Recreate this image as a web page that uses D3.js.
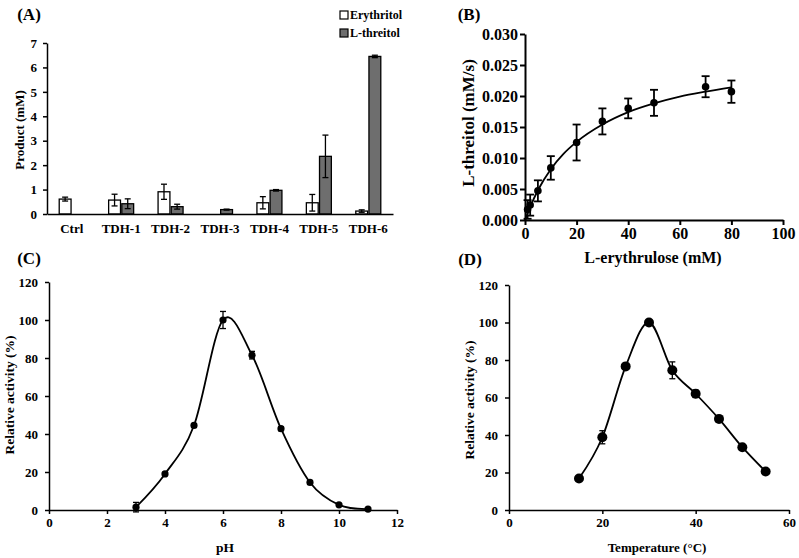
<!DOCTYPE html>
<html><head><meta charset="utf-8">
<script src="https://cdn.jsdelivr.net/npm/d3@7"></script>
<style>
body{margin:0;background:#fff;}
svg{display:block;font-family:"Liberation Serif","Times New Roman",serif;font-weight:bold;}
</style></head>
<body><svg id="c" width="799" height="558"></svg>
<script>
// ---------- Data ----------
// (A)
const catsA = ["Ctrl","TDH-1","TDH-2","TDH-3","TDH-4","TDH-5","TDH-6"];
const seriesA = ["Erythritol","L-threitol"];
const erythritol    = [0.61,0.57,0.91,0,0.46,0.46,0.12];
const erythritolErr = [0.08,0.24,0.31,0,0.25,0.34,0.05];
const threitol      = [0,0.42,0.30,0.18,0.97,2.36,6.45];
const threitolErr   = [0,0.20,0.10,0.02,0.03,0.87,0.05];
const ticksA = [0,1,2,3,4,5,6,7];
// (B)
const substrate = [1,2,5,10,20,30,40,50,70,80];
const rateB     = [0.0017,0.0024,0.0047,0.0084,0.0125,0.0159,0.0180,0.0189,0.0215,0.0207];
const rateErrB  = [0.0015,0.0017,0.0017,0.0019,0.0029,0.0021,0.0016,0.0021,0.0017,0.0018];
const fitX = [0,2,5,10,15,20,30,40,50,60,70,80];
const fitY = [0,0.0021,0.0048,0.0082,0.0107,0.0126,0.0154,0.0174,0.0188,0.0199,0.0207,0.0214];
const ticksBy = [0,0.005,0.010,0.015,0.020,0.025,0.030];
const ticksBx = [0,20,40,60,80,100];
// (C)
const pH    = [3,4,5,6,7,8,9,10,11];
const actPH = [1.5,19,44.5,100,81.5,42.8,14.5,2.7,0.5];
const errPH = [2.5,0.8,1,4.5,2,1,1,0.5,0.3];
const ticksCx = [0,2,4,6,8,10,12];
// (D)
const temp = [15,20,25,30,35,40,45,50,55];
const actT = [16.8,38.8,76.6,100,74.5,62,48.6,33.5,20.5];
const errT = [0.5,3.5,1,1.5,4.5,2,1,1,1];
const ticksDx = [0,20,40,60];
const ticksRel = [0,20,40,60,80,100,120];

const svg = d3.select("#c");

function styleAxis(g, w, fs){
  g.selectAll("path,line").attr("stroke","#000").attr("stroke-width",w);
  g.selectAll("text").attr("font-size",fs).attr("font-weight","bold")
   .attr("font-family","'Liberation Serif','Times New Roman',serif").attr("fill","#000");
}
function label(x,y,t,fs,rot){
  const e = svg.append("text").attr("text-anchor","middle").attr("dominant-baseline","central")
    .attr("font-size",fs).text(t);
  if(rot) e.attr("transform",`translate(${x},${y}) rotate(-90)`); else e.attr("x",x).attr("y",y);
  return e;
}
function errBars(g, data, xf, yf, cap, w){
  const eg = g.append("g").attr("stroke","#000").attr("stroke-width",w);
  data.forEach(d=>{
    if(!d.e) return;
    const x = xf(d), y1 = yf(d.v+d.e), y2 = yf(d.v-d.e);
    eg.append("line").attr("x1",x).attr("x2",x).attr("y1",y1).attr("y2",y2);
    eg.append("line").attr("x1",x-cap).attr("x2",x+cap).attr("y1",y1).attr("y2",y1);
    eg.append("line").attr("x1",x-cap).attr("x2",x+cap).attr("y1",y2).attr("y2",y2);
  });
}

// ---------- Panel A ----------
{
  const x = d3.scaleBand().domain(catsA).range([47,393]);
  const y = d3.scaleLinear().domain([0,7]).range([214,43]);
  const sub = d3.scaleBand().domain(seriesA).range([x.bandwidth()/2-12.5, x.bandwidth()/2+12.5]).paddingInner(0.1);
  const g = svg.append("g");
  const rows = [];
  catsA.forEach((c,i)=>{
    rows.push({c, s:"Erythritol", v:erythritol[i], e:erythritolErr[i]});
    rows.push({c, s:"L-threitol", v:threitol[i], e:threitolErr[i]});
  });
  const bars = rows.filter(d=>d.v>0);
  g.selectAll("rect.bar").data(bars).join("rect")
    .attr("x",d=>x(d.c)+sub(d.s)).attr("width",sub.bandwidth())
    .attr("y",d=>y(d.v)).attr("height",d=>y(0)-y(d.v))
    .attr("fill",d=>d.s==="Erythritol"?"#fff":"#6e6e6e")
    .attr("stroke","#000").attr("stroke-width",1.3);
  errBars(g, bars, d=>x(d.c)+sub(d.s)+sub.bandwidth()/2, y, 3, 1.3);
  const ay = g.append("g").attr("transform","translate(47,0)")
    .call(d3.axisLeft(y).tickValues(ticksA).tickFormat(d3.format("d")).tickSize(4).tickSizeOuter(0).tickPadding(6));
  styleAxis(ay,1.5,13);
  const ax = g.append("g").attr("transform","translate(0,214)")
    .call(d3.axisBottom(x).tickSize(0).tickSizeOuter(0).tickPadding(10));
  styleAxis(ax,1.5,13);
  label(19,130,"Product (mM)",13,true);
  label(29,14,"(A)",17,false);
  // legend
  const lg = svg.append("g");
  seriesA.forEach((s,i)=>{
    const yy = 15 + i*18;
    lg.append("rect").attr("x",340).attr("y",yy-4).attr("width",8).attr("height",8)
      .attr("fill",i===0?"#fff":"#6e6e6e").attr("stroke","#000").attr("stroke-width",1.2);
    lg.append("text").attr("x",350).attr("y",yy).attr("dominant-baseline","central")
      .attr("font-size",12).text(s);
  });
}

// ---------- Panel B ----------
{
  const x = d3.scaleLinear().domain([0,100]).range([525,783]);
  const y = d3.scaleLinear().domain([0,0.030]).range([220,34]);
  const g = svg.append("g");
  const ay = g.append("g").attr("transform","translate(525,0)")
    .call(d3.axisLeft(y).tickValues(ticksBy).tickFormat(d3.format(".3f")).tickSize(5).tickSizeOuter(0).tickPadding(2));
  styleAxis(ay,2,16);
  const ax = g.append("g").attr("transform","translate(0,220)")
    .call(d3.axisBottom(x).tickValues(ticksBx).tickSize(5).tickSizeOuter(0).tickPadding(3));
  styleAxis(ax,2,16);
  const pts = substrate.map((s,i)=>({x:s,v:rateB[i],e:rateErrB[i]}));
  const fit = fitX.map((s,i)=>[s,fitY[i]]);
  g.append("path").datum(fit).attr("fill","none").attr("stroke","#000").attr("stroke-width",1.8)
    .attr("d",d3.line().x(d=>x(d[0])).y(d=>y(d[1])).curve(d3.curveMonotoneX));
  errBars(g, pts, d=>x(d.x), y, 4, 1.8);
  g.selectAll("circle").data(pts).join("circle")
    .attr("cx",d=>x(d.x)).attr("cy",d=>y(d.v)).attr("r",3.8).attr("fill","#000");
  label(468,123,"L-threitol (mM/s)",17,true);
  label(653,257,"L-erythrulose (mM)",16,false);
  label(469,14,"(B)",17,false);
}

// ---------- Panel C ----------
{
  const x = d3.scaleLinear().domain([0,12]).range([49,397]);
  const y = d3.scaleLinear().domain([0,120]).range([510,282]);
  const g = svg.append("g");
  const ay = g.append("g").attr("transform","translate(49,0)")
    .call(d3.axisLeft(y).tickValues(ticksRel).tickSize(4).tickSizeOuter(0).tickPadding(7));
  styleAxis(ay,1.5,13);
  const ax = g.append("g").attr("transform","translate(0,510)")
    .call(d3.axisBottom(x).tickValues(ticksCx).tickSize(4).tickSizeOuter(0).tickPadding(4));
  styleAxis(ax,1.5,13);
  const pts = pH.map((p,i)=>({x:p,v:actPH[i],e:errPH[i]}));
  g.append("path").datum(pts).attr("fill","none").attr("stroke","#000").attr("stroke-width",1.8)
    .attr("d",d3.line().x(d=>x(d.x)).y(d=>y(d.v)).curve(d3.curveCardinal.tension(0)));
  errBars(g, pts, d=>x(d.x), y, 3, 1.3);
  g.selectAll("circle").data(pts).join("circle")
    .attr("cx",d=>x(d.x)).attr("cy",d=>y(d.v)).attr("r",3.6).attr("fill","#000");
  label(9,395,"Relative activity (%)",13.5,true);
  label(225,547,"pH",13.5,false);
  label(29,258,"(C)",17,false);
}

// ---------- Panel D ----------
{
  const x = d3.scaleLinear().domain([0,60]).range([509,789]);
  const y = d3.scaleLinear().domain([0,120]).range([510,285]);
  const g = svg.append("g");
  const ay = g.append("g").attr("transform","translate(509,0)")
    .call(d3.axisLeft(y).tickValues(ticksRel).tickSize(4).tickSizeOuter(0).tickPadding(7));
  styleAxis(ay,1.5,13);
  const ax = g.append("g").attr("transform","translate(0,510)")
    .call(d3.axisBottom(x).tickValues(ticksDx).tickSize(4).tickSizeOuter(0).tickPadding(4));
  styleAxis(ax,1.5,13);
  const pts = temp.map((t,i)=>({x:t,v:actT[i],e:errT[i]}));
  g.append("path").datum(pts).attr("fill","none").attr("stroke","#000").attr("stroke-width",1.8)
    .attr("d",d3.line().x(d=>x(d.x)).y(d=>y(d.v)).curve(d3.curveCardinal.tension(0)));
  errBars(g, pts, d=>x(d.x), y, 3, 1.3);
  g.selectAll("circle").data(pts).join("circle")
    .attr("cx",d=>x(d.x)).attr("cy",d=>y(d.v)).attr("r",5).attr("fill","#000");
  label(469,400,"Relative activity (%)",13.5,true);
  label(657,547,"Temperature (°C)",13,false);
  label(470,259,"(D)",17,false);
}
</script></body></html>
